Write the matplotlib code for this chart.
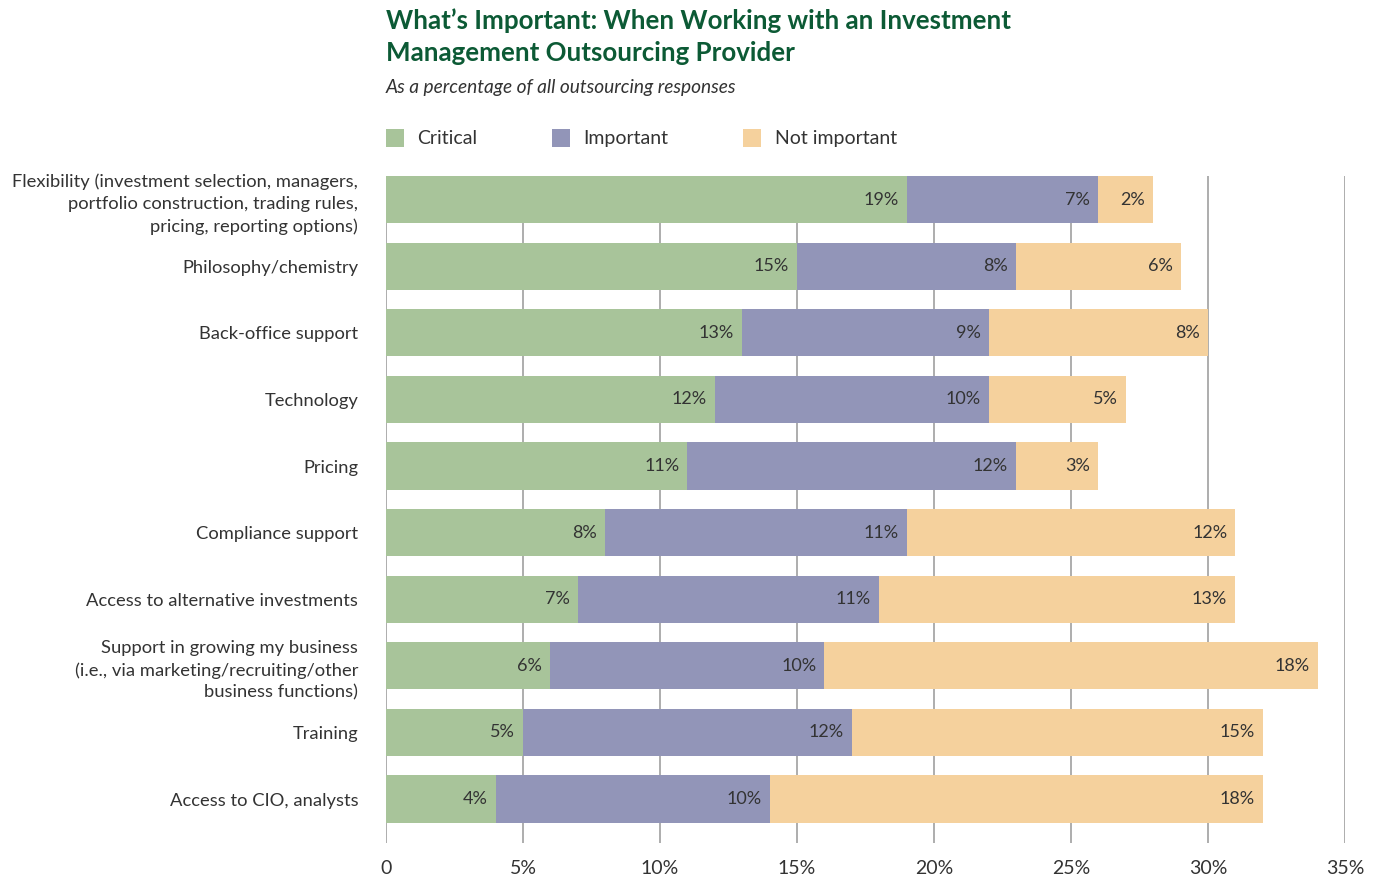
import matplotlib
matplotlib.use("Agg")
import matplotlib.pyplot as plt
import numpy as np
from matplotlib.patches import Patch

# survey data: share of outsourcing responses, by importance rating
categories = [
    "Flexibility (investment selection, managers,\nportfolio construction, trading rules,\npricing, reporting options)",
    "Philosophy/chemistry",
    "Back-office support",
    "Technology",
    "Pricing",
    "Compliance support",
    "Access to alternative investments",
    "Support in growing my business\n(i.e., via marketing/recruiting/other\nbusiness functions)",
    "Training",
    "Access to CIO, analysts",
]
critical = [19, 15, 13, 12, 11, 8, 7, 6, 5, 4]
important = [7, 8, 9, 10, 12, 11, 11, 10, 12, 10]
not_important = [2, 6, 8, 5, 3, 12, 13, 18, 15, 18]

series_names = ["Critical", "Important", "Not important"]
colors = ["#a8c49a", "#9295b8", "#f5d19d"]
xticks = [0, 5, 10, 15, 20, 25, 30, 35]

plt.rcParams["font.family"] = ["Lato", "DejaVu Sans"]

fig = plt.figure(figsize=(13.87, 8.76), dpi=100)
ax = fig.add_axes([386 / 1387, 1 - 843 / 876, (1345 - 386) / 1387, (843 - 176) / 876])

y = np.arange(len(categories))
left = np.zeros(len(categories))
for name, vals, col in zip(series_names, [critical, important, not_important], colors):
    vals = np.array(vals)
    bars = ax.barh(y, vals, left=left, height=0.71, color=col, zorder=2, label=name)
    for b, v, l in zip(bars, vals, left):
        ax.text(l + v - 0.3, b.get_y() + b.get_height() / 2, f"{v}%",
                ha="right", va="center", fontsize=13, color="#333333", zorder=3)
    left = left + vals

ax.set_xlim(0, 35)
ax.set_ylim(9.66, -0.355)
ax.set_xticks(xticks)
ax.set_xticklabels(["0"] + [f"{t}%" for t in xticks[1:]], fontsize=14, color="#333333")
ax.set_yticks(y)
ax.set_yticklabels(categories, fontsize=13.2, color="#333333", linespacing=1.45)
ax.tick_params(axis="both", length=0)
ax.tick_params(axis="x", pad=12)
ax.tick_params(axis="y", pad=20)
ax.grid(axis="x", color="#a0a0a0", linewidth=1.2, zorder=0)
ax.grid(axis="y", visible=False)
for s in ax.spines.values():
    s.set_visible(False)

fig.text(386 / 1387, 1 - 21 / 876, "What\u2019s Important: When Working with an Investment",
         fontsize=18.6, fontweight="bold", color="#0c5a35", va="center", ha="left")
fig.text(386 / 1387, 1 - 53 / 876, "Management Outsourcing Provider",
         fontsize=18.6, fontweight="bold", color="#0c5a35", va="center", ha="left")
fig.text(386 / 1387, 1 - 88 / 876, "As a percentage of all outsourcing responses",
         fontsize=13.8, style="italic", color="#333333", va="center", ha="left")

handles = [Patch(facecolor=c, edgecolor="none") for c in colors]
fig.legend(handles, series_names, loc="center left",
           bbox_to_anchor=(368 / 1387, 1 - 138 / 876), ncol=3, frameon=False,
           fontsize=14, handlelength=0.95, handleheight=1.1, handletextpad=0.7,
           columnspacing=3.8, labelcolor="#333333")

fig.savefig("out.png", dpi=100)
